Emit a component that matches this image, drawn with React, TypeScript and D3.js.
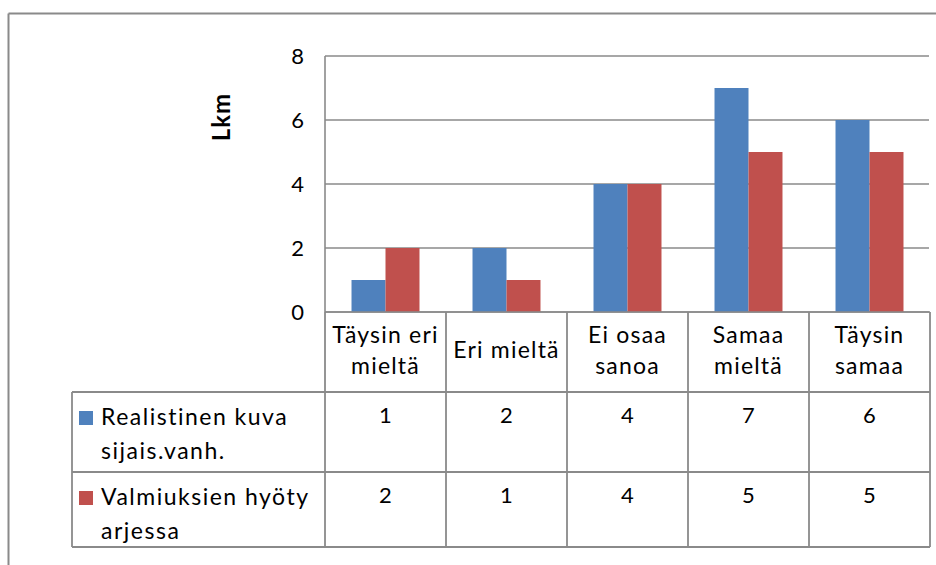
import React from "react";
import * as d3 from "d3";

const categories = ["Täysin eri mieltä", "Eri mieltä", "Ei osaa sanoa", "Samaa mieltä", "Täysin samaa"];
const categoryLines = [["Täysin eri", "mieltä"], ["Eri mieltä"], ["Ei osaa", "sanoa"], ["Samaa", "mieltä"], ["Täysin", "samaa"]];
const seriesNames = ["Realistinen kuva sijais.vanh.", "Valmiuksien hyöty arjessa"];
const seriesLines = [["Realistinen kuva", "sijais.vanh."], ["Valmiuksien hyöty", "arjessa"]];
const seriesColors = ["#4F81BD", "#C0504D"];
const realistinen = [1, 2, 4, 7, 6];
const valmiuksien = [2, 1, 4, 5, 5];
const seriesValues = [realistinen, valmiuksien];
const yTicks = [0, 2, 4, 6, 8];
const yLabel = "Lkm";

const W = 936;
const H = 565;
const plotL = 325;
const plotR = 930;
const plotT = 56;
const plotB = 312;
const tableL = 72;
const rowTops = [392, 472];
const tableB = 547;
const gray = "#8a8a8a";
const font = "Lato, 'Open Sans', sans-serif";

export default function App() {
  const x = d3.scaleBand<string>().domain(categories).range([plotL, plotR]).padding(0);
  const xs = d3.scaleBand<string>().domain(seriesNames).range([0, x.bandwidth()]).paddingInner(0).paddingOuter(0.78);
  const y = d3.scaleLinear().domain([0, 8]).range([plotB, plotT]);

  const colEdges = [...categories.map((c) => x(c)!), plotR];

  return (
    <div style={{ position: "absolute", left: 0, top: 0 }}>
      <svg width={W} height={H} style={{ display: "block", fontFamily: font }}>
        <rect x={0} y={0} width={W} height={H} fill="#fff" />
        {/* outer border */}
        <line x1={8.5} y1={13.5} x2={W + 5} y2={13.5} stroke={gray} strokeWidth={2} />
        <line x1={8.5} y1={13.5} x2={8.5} y2={H + 5} stroke={gray} strokeWidth={2} />

        {/* gridlines */}
        {yTicks.map((t) => (
          <line key={t} x1={plotL} x2={plotR - 1} y1={y(t)} y2={y(t)} stroke={gray} strokeWidth={1.6} />
        ))}
        {/* axis line */}
        <line x1={plotL} x2={plotL} y1={plotT} y2={plotB} stroke={gray} strokeWidth={1.6} />

        {/* tick labels */}
        {yTicks.map((t) => (
          <text key={"l" + t} x={304} y={y(t) + 7.5} textAnchor="end" fontSize={22} fill="#000">
            {t}
          </text>
        ))}

        {/* y label */}
        <text
          transform={`translate(230, ${117}) rotate(-90)`}
          textAnchor="middle"
          fontSize={24}
          fontWeight="bold"
          letterSpacing={1}
          fill="#000"
        >
          {yLabel}
        </text>

        {/* bars */}
        {seriesValues.map((vals, si) =>
          vals.map((v, ci) => (
            <rect
              key={`${si}-${ci}`}
              x={x(categories[ci])! + xs(seriesNames[si])!}
              y={y(v)}
              width={xs.bandwidth()}
              height={y(0) - y(v)}
              fill={seriesColors[si]}
            />
          ))
        )}

        {/* axis baseline */}
        <line x1={plotL} x2={plotR} y1={plotB} y2={plotB} stroke={gray} strokeWidth={1.6} />

        {/* table lines */}
        {colEdges.map((cx, i) => (
          <line key={"v" + i} x1={cx} x2={cx} y1={plotB} y2={tableB} stroke={gray} strokeWidth={1.8} />
        ))}
        <line x1={tableL} x2={tableL} y1={rowTops[0]} y2={tableB} stroke={gray} strokeWidth={1.8} />
        {[...rowTops, tableB].map((ry, i) => (
          <line key={"h" + i} x1={tableL} x2={plotR} y1={ry} y2={ry} stroke={gray} strokeWidth={1.8} />
        ))}

        {/* category header text */}
        {categoryLines.map((lines, ci) => {
          const cx = x(categories[ci])! + x.bandwidth() / 2;
          const base = lines.length === 2 ? [343, 374] : [358];
          return lines.map((ln, li) => (
            <text key={`c${ci}-${li}`} x={cx} y={base[li]} textAnchor="middle" fontSize={23} letterSpacing={1.2} fill="#000">
              {ln}
            </text>
          ));
        })}

        {/* legend rows */}
        {seriesLines.map((lines, si) => (
          <g key={"s" + si}>
            <rect x={79} y={rowTops[si] + 19} width={14} height={14} fill={seriesColors[si]} />
            {lines.map((ln, li) => (
              <text key={li} x={101} y={rowTops[si] + 33 + li * 34} fontSize={23} letterSpacing={1.5} fill="#000">
                {ln}
              </text>
            ))}
          </g>
        ))}

        {/* values */}
        {seriesValues.map((vals, si) =>
          vals.map((v, ci) => (
            <text
              key={`v${si}-${ci}`}
              x={x(categories[ci])! + x.bandwidth() / 2}
              y={rowTops[si] + 31}
              textAnchor="middle"
              fontSize={22}
              fill="#000"
            >
              {v}
            </text>
          ))
        )}
      </svg>
    </div>
  );
}
